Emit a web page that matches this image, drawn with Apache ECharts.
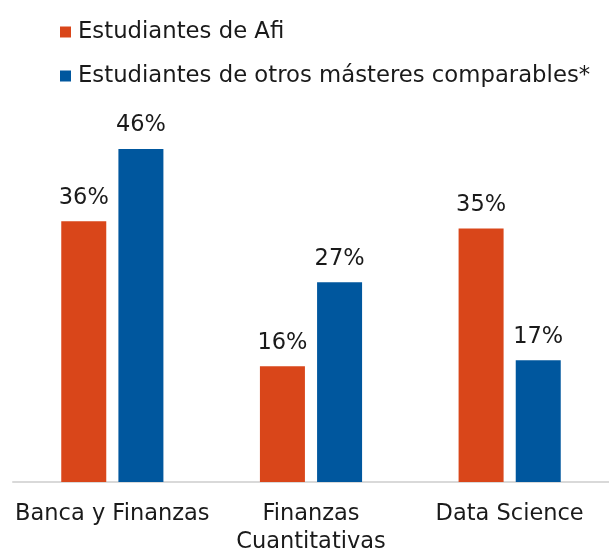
<!DOCTYPE html>
<html>
<head>
<meta charset="utf-8">
<script src="https://cdn.jsdelivr.net/npm/echarts@6/dist/echarts.min.js"></script>
<style>
html,body{margin:0;padding:0;background:#fff;}
#c{width:609px;height:556px;}
</style>
</head>
<body>
<div id="c"></div>
<script>
var categories = ['Banca y Finanzas', 'Finanzas\nCuantitativas', 'Data Science'];
var seriesNames = ['Estudiantes de Afi', 'Estudiantes de otros másteres comparables*'];
var afiValues = [36, 16, 35];
var otherValues = [46, 27.6, 16.8];
var afiLabels = ['36%', '16%', '35%'];
var otherLabels = ['46%', '27%', '17%'];

var FONT = 'DejaVu Sans';
var FS = 22.5;
var chart = echarts.init(document.getElementById('c'), null, {renderer: 'canvas'});
function lbl(arr) {
  return {
    show: true, position: 'top', distance: 12,
    fontFamily: FONT, fontSize: FS, color: '#1a1a1a',
    formatter: function (p) { return arr[p.dataIndex]; }
  };
}
chart.setOption({
  animation: false,
  legend: {
    orient: 'vertical', left: 55, top: 14,
    itemWidth: 11, itemHeight: 11, itemGap: 18,
    icon: 'rect',
    textStyle: {fontFamily: FONT, fontSize: 22.75, color: '#1a1a1a', lineHeight: 26, padding: [0,0,0,2]},
    data: seriesNames
  },
  grid: {left: 13, right: -10, top: 120, bottom: 73, containLabel: false},
  xAxis: {
    type: 'category', data: categories,
    axisLine: {lineStyle: {color: '#d9d9d9', width: 2}},
    axisTick: {show: false},
    axisLabel: {fontFamily: FONT, fontSize: FS, color: '#1a1a1a', lineHeight: 28, margin: 18, interval: 0}
  },
  yAxis: {type: 'value', min: 0, max: 50, show: false, splitLine: {show: false}},
  series: [
    {name: seriesNames[0], type: 'bar', data: afiValues, barWidth: 45, barGap: '27%',
     itemStyle: {color: '#d9461a'}, label: lbl(afiLabels)},
    {name: seriesNames[1], type: 'bar', data: otherValues, barWidth: 45,
     itemStyle: {color: '#00579e'}, label: lbl(otherLabels)}
  ]
});
</script>
</body>
</html>
